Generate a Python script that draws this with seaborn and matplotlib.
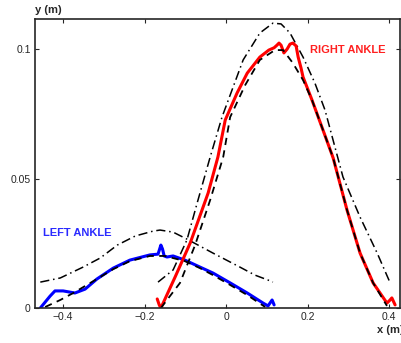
import numpy as np
import pandas as pd
import seaborn as sns
from matplotlib import pyplot as plt

# right ankle: measured trajectory, mean (dashed), upper envelope (dash-dot)
right_x = [-0.169, -0.164, -0.160, -0.125, -0.088, -0.044, -0.020, -0.002, 0.027, 0.052, 0.083,
           0.105, 0.118, 0.125, 0.130, 0.135, 0.142, 0.150, 0.157, 0.164, 0.172, 0.177, 0.184,
           0.189, 0.211, 0.238, 0.263, 0.297, 0.329, 0.361, 0.395, 0.402, 0.407, 0.415]
right_y = [0.0035, 0.0012, 0.0, 0.0120, 0.0251, 0.0444, 0.0583, 0.0726, 0.0830, 0.0907, 0.0969,
           0.0996, 0.1005, 0.1015, 0.1023, 0.1015, 0.0985, 0.1000, 0.1019, 0.1023, 0.1012, 0.0969,
           0.0927, 0.0892, 0.0803, 0.0687, 0.0579, 0.0378, 0.0212, 0.0097, 0.0019, 0.0030, 0.0039,
           0.0012]

right_mean_x = [-0.160, -0.113, -0.076, -0.039, -0.007, 0.010, 0.047, 0.083, 0.120, 0.140,
                0.164, 0.189, 0.211, 0.238, 0.263, 0.297, 0.329, 0.361, 0.395]
right_mean_y = [0.0, 0.0097, 0.0243, 0.0417, 0.0583, 0.0737, 0.0861, 0.0958, 0.0996, 0.0996,
                0.0946, 0.0880, 0.0803, 0.0687, 0.0579, 0.0378, 0.0212, 0.0097, 0.0008]

right_env_x = [-0.167, -0.130, -0.096, -0.071, -0.039, -0.010, 0.042, 0.083, 0.115, 0.135,
               0.157, 0.189, 0.218, 0.243, 0.287, 0.329, 0.371, 0.402]
right_env_y = [0.0100, 0.0147, 0.0263, 0.0405, 0.0583, 0.0737, 0.0958, 0.1062, 0.1100, 0.1097,
               0.1062, 0.0969, 0.0869, 0.0764, 0.0506, 0.0351, 0.0212, 0.0100]

# left ankle
left_x = [-0.456, -0.444, -0.432, -0.420, -0.400, -0.371, -0.346, -0.317, -0.277, -0.236,
          -0.187, -0.167, -0.163, -0.160, -0.156, -0.152, -0.145, -0.130, -0.101, -0.064,
          -0.032, 0.010, 0.052, 0.091, 0.103, 0.113, 0.118]
left_y = [0.0, 0.0023, 0.0046, 0.0066, 0.0066, 0.0058, 0.0073, 0.0112, 0.0154, 0.0185,
          0.0205, 0.0208, 0.0228, 0.0243, 0.0228, 0.0201, 0.0197, 0.0201, 0.0185, 0.0158,
          0.0135, 0.0097, 0.0058, 0.0019, 0.0008, 0.0031, 0.0012]

left_mean_x = [-0.444, -0.407, -0.375, -0.317, -0.277, -0.236, -0.187, -0.150, -0.101,
               -0.064, -0.032, 0.010, 0.052, 0.096]
left_mean_y = [0.0004, 0.0031, 0.0058, 0.0112, 0.0150, 0.0181, 0.0201, 0.0201, 0.0181,
               0.0154, 0.0127, 0.0089, 0.0050, 0.0004]

left_env_x = [-0.456, -0.407, -0.351, -0.309, -0.267, -0.223, -0.179, -0.162, -0.130, -0.096,
              -0.064, -0.032, 0.034, 0.071, 0.103, 0.115]
left_env_y = [0.0100, 0.0116, 0.0158, 0.0193, 0.0243, 0.0278, 0.0297, 0.0301, 0.0293, 0.0266,
              0.0239, 0.0212, 0.0158, 0.0127, 0.0108, 0.0100]

x_ticks = [-0.4, -0.2, 0, 0.2, 0.4]
x_labels = ['\u22120.4', '\u22120.2', '0', '0.2', '0.4']
y_ticks = [0, 0.05, 0.1]
y_labels = ['0', '0.05', '0.1']

sns.set_style('ticks')
plt.rcParams['font.family'] = ['Liberation Sans', 'DejaVu Sans']
plt.rcParams['xtick.direction'] = 'in'
plt.rcParams['ytick.direction'] = 'in'

fig = plt.figure(figsize=(4.01, 3.43), dpi=100)
ax = fig.add_axes([0.0873, 0.102, 0.9102, 0.8426])


def draw(xs, ys, **kw):
    d = pd.DataFrame({'x': xs, 'y': ys})
    sns.lineplot(data=d, x='x', y='y', sort=False, estimator=None, ax=ax, **kw)


draw(right_env_x, right_env_y, color='black', lw=1.1, dashes=(6, 2.5, 1, 2.5))
draw(left_env_x, left_env_y, color='black', lw=1.1, dashes=(6, 2.5, 1, 2.5))
draw(left_x, left_y, color='#0000ff', lw=2.2)
draw(right_x, right_y, color='#ff0000', lw=2.2)
draw(left_mean_x, left_mean_y, color='black', lw=1.3, dashes=(4, 3))
draw(right_mean_x, right_mean_y, color='black', lw=1.3, dashes=(4, 3))

ax.set_xlim(-0.469, 0.427)
ax.set_ylim(0, 0.1116)
ax.set_xticks(x_ticks)
ax.set_xticklabels(x_labels)
ax.set_yticks(y_ticks)
ax.set_yticklabels(y_labels)
ax.tick_params(labelsize=7.5, top=True, right=True, length=3, width=0.8, pad=3)
for s in ax.spines.values():
    s.set_linewidth(1.2)
ax.set_xlabel('')
ax.set_ylabel('')

ax.text(-0.45, 0.029, 'LEFT ANKLE', color='#2a2aff', fontsize=8, fontweight='bold', va='center')
ax.text(0.205, 0.0996, 'RIGHT ANKLE', color='#ff2020', fontsize=8, fontweight='bold', va='center')
fig.text(0.087, 0.972, 'y (m)', fontsize=8, fontweight='bold', va='center')
fig.text(0.94, 0.037, 'x (m)', fontsize=8, fontweight='bold', va='center')

fig.savefig('out.png', dpi=100)
